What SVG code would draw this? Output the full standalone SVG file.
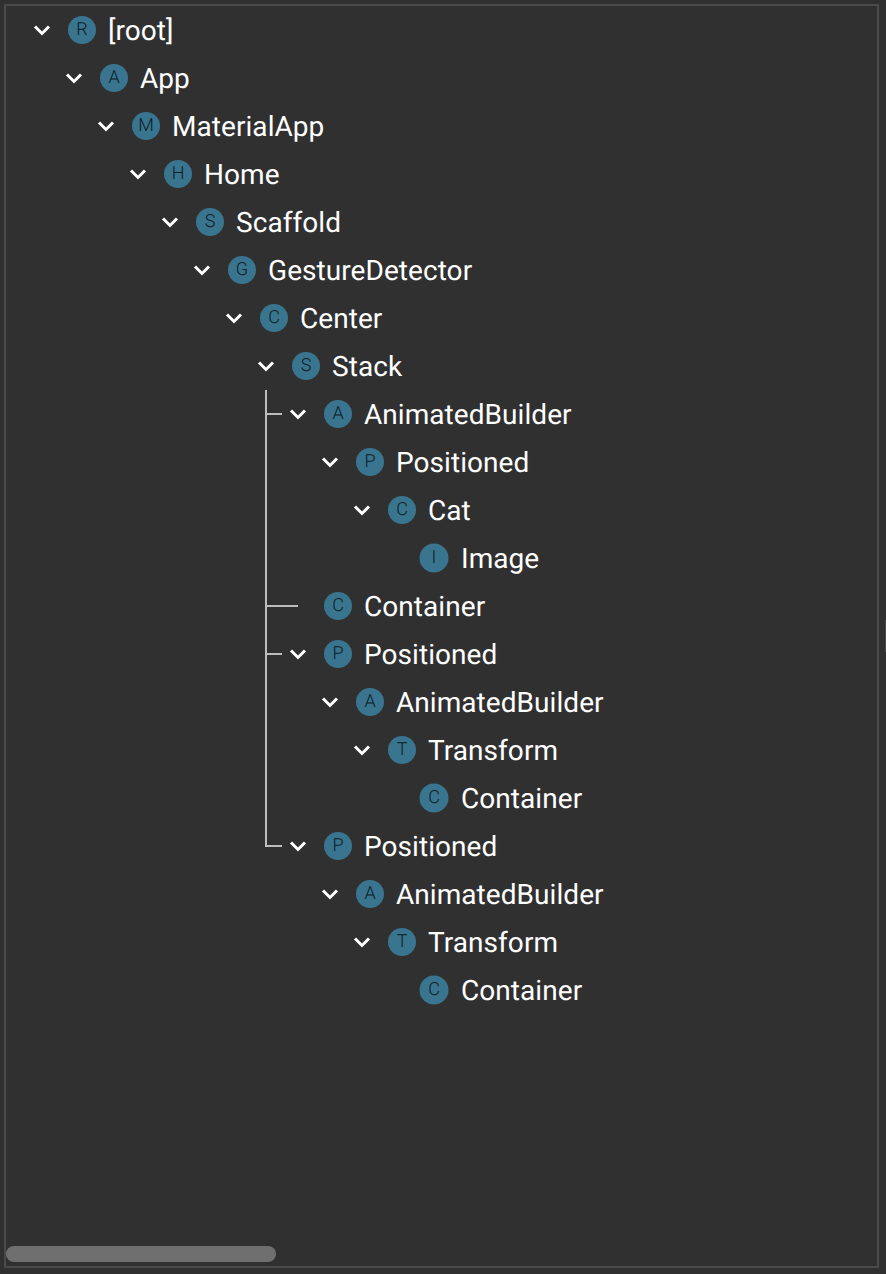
<svg xmlns="http://www.w3.org/2000/svg" width="886" height="1274" viewBox="0 0 886 1274">
<style>
text{text-rendering:geometricPrecision}
.lbl{font-family:Roboto,"Liberation Sans",sans-serif;font-size:28px;letter-spacing:.06px;fill:#fff}
.ini{font-family:Roboto,"Liberation Sans",sans-serif;font-size:18px;font-weight:300;fill:#0c1a22;text-anchor:middle}
.dot{fill:#3a7590}
.chev{fill:none;stroke:#fff;stroke-width:3}
.guide{fill:none;stroke:#bdbdbd;stroke-width:2}
</style>
<defs>
<path id="chev" class="chev" d="M-7-3.500L0 3.500L7-3.500"/>
</defs>
<rect width="886" height="1274" fill="#303030"/>
<rect x="5" y="5" width="873" height="1262" fill="none" stroke="#4a4a4a" stroke-width="2"/>
<rect x="885" y="620" width="1" height="32" fill="#4a4a4a"/>
<rect x="6" y="1246" width="270" height="16" rx="8" fill="#6f6f6f"/>
<g id="connectors">
<path class="guide" d="M266 390V846H282"/>
<path class="guide" d="M266 414H282M266 606H298M266 654H282"/>
</g>
<g id="n0"><use href="#chev" x="42" y="30"/><circle class="dot" cx="82" cy="30" r="14"/><text class="ini" x="82" y="35">R</text><text class="lbl" x="108" y="40">[root]</text></g>
<g id="n1"><use href="#chev" x="74" y="78"/><circle class="dot" cx="114" cy="78" r="14"/><text class="ini" x="114" y="83">A</text><text class="lbl" x="140" y="88">App</text></g>
<g id="n2"><use href="#chev" x="106" y="126"/><circle class="dot" cx="146" cy="126" r="14"/><text class="ini" x="146" y="131">M</text><text class="lbl" x="172" y="136">MaterialApp</text></g>
<g id="n3"><use href="#chev" x="138" y="174"/><circle class="dot" cx="178" cy="174" r="14"/><text class="ini" x="178" y="179">H</text><text class="lbl" x="204" y="184">Home</text></g>
<g id="n4"><use href="#chev" x="170" y="222"/><circle class="dot" cx="210" cy="222" r="14"/><text class="ini" x="210" y="227">S</text><text class="lbl" x="236" y="232">Scaffold</text></g>
<g id="n5"><use href="#chev" x="202" y="270"/><circle class="dot" cx="242" cy="270" r="14"/><text class="ini" x="242" y="275">G</text><text class="lbl" x="268" y="280">GestureDetector</text></g>
<g id="n6"><use href="#chev" x="234" y="318"/><circle class="dot" cx="274" cy="318" r="14"/><text class="ini" x="274" y="323">C</text><text class="lbl" x="300" y="328">Center</text></g>
<g id="n7"><use href="#chev" x="266" y="366"/><circle class="dot" cx="306" cy="366" r="14"/><text class="ini" x="306" y="371">S</text><text class="lbl" x="332" y="376">Stack</text></g>
<g id="n8"><use href="#chev" x="298" y="414"/><circle class="dot" cx="338" cy="414" r="14"/><text class="ini" x="338" y="419">A</text><text class="lbl" x="364" y="424">AnimatedBuilder</text></g>
<g id="n9"><use href="#chev" x="330" y="462"/><circle class="dot" cx="370" cy="462" r="14"/><text class="ini" x="370" y="467">P</text><text class="lbl" x="396" y="472">Positioned</text></g>
<g id="n10"><use href="#chev" x="362" y="510"/><circle class="dot" cx="402" cy="510" r="14"/><text class="ini" x="402" y="515">C</text><text class="lbl" x="428" y="520">Cat</text></g>
<g id="n11"><circle class="dot" cx="434" cy="558" r="14.500"/><text class="ini" x="434" y="563">I</text><text class="lbl" x="461" y="568">Image</text></g>
<g id="n12"><circle class="dot" cx="338" cy="606" r="14"/><text class="ini" x="338" y="611">C</text><text class="lbl" x="364" y="616">Container</text></g>
<g id="n13"><use href="#chev" x="298" y="654"/><circle class="dot" cx="338" cy="654" r="14"/><text class="ini" x="338" y="659">P</text><text class="lbl" x="364" y="664">Positioned</text></g>
<g id="n14"><use href="#chev" x="330" y="702"/><circle class="dot" cx="370" cy="702" r="14"/><text class="ini" x="370" y="707">A</text><text class="lbl" x="396" y="712">AnimatedBuilder</text></g>
<g id="n15"><use href="#chev" x="362" y="750"/><circle class="dot" cx="402" cy="750" r="14"/><text class="ini" x="402" y="755">T</text><text class="lbl" x="428" y="760">Transform</text></g>
<g id="n16"><circle class="dot" cx="434" cy="798" r="14.500"/><text class="ini" x="434" y="803">C</text><text class="lbl" x="461" y="808">Container</text></g>
<g id="n17"><use href="#chev" x="298" y="846"/><circle class="dot" cx="338" cy="846" r="14"/><text class="ini" x="338" y="851">P</text><text class="lbl" x="364" y="856">Positioned</text></g>
<g id="n18"><use href="#chev" x="330" y="894"/><circle class="dot" cx="370" cy="894" r="14"/><text class="ini" x="370" y="899">A</text><text class="lbl" x="396" y="904">AnimatedBuilder</text></g>
<g id="n19"><use href="#chev" x="362" y="942"/><circle class="dot" cx="402" cy="942" r="14"/><text class="ini" x="402" y="947">T</text><text class="lbl" x="428" y="952">Transform</text></g>
<g id="n20"><circle class="dot" cx="434" cy="990" r="14.500"/><text class="ini" x="434" y="995">C</text><text class="lbl" x="461" y="1000">Container</text></g>
</svg>
